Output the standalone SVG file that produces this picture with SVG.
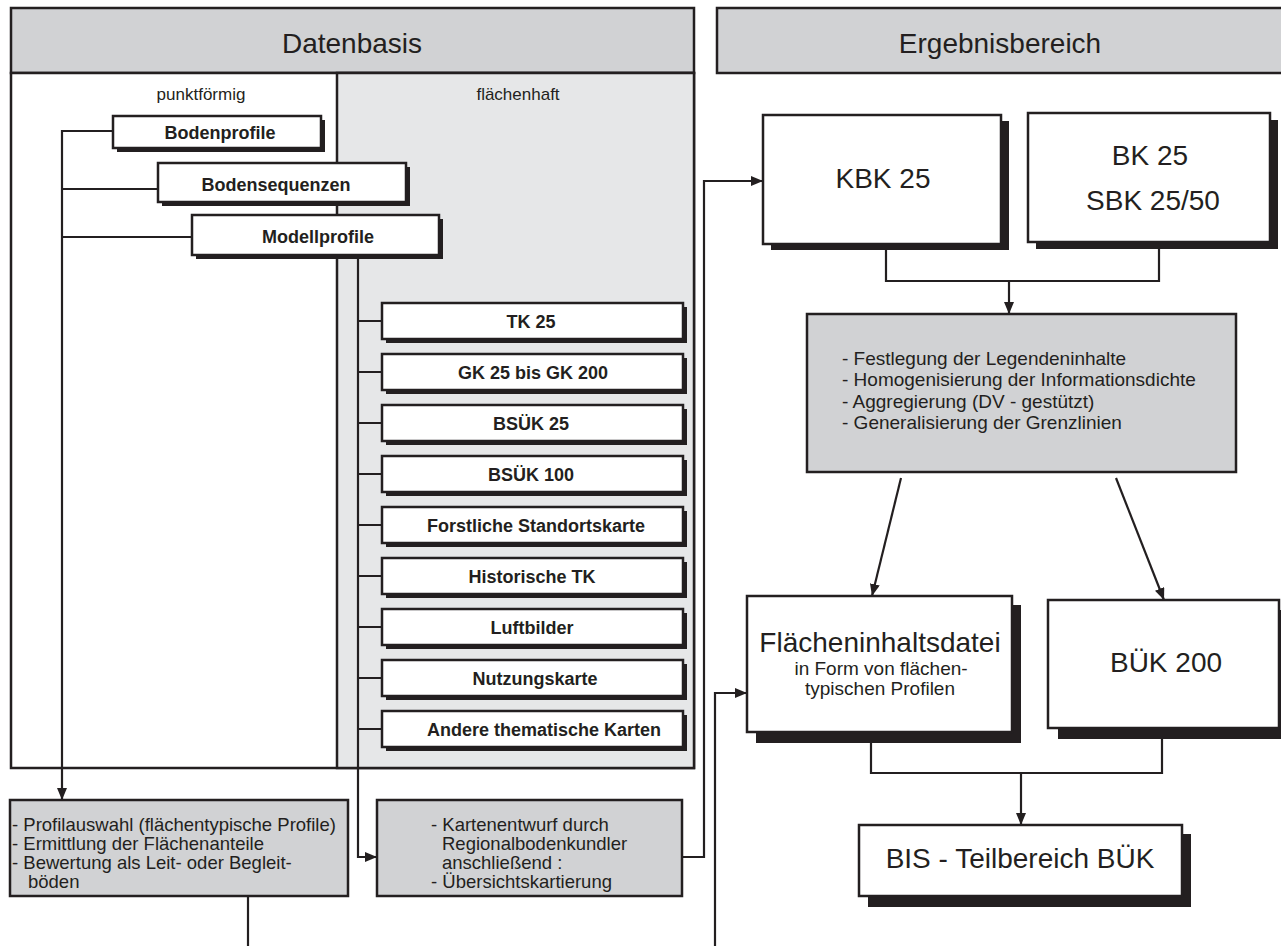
<svg xmlns="http://www.w3.org/2000/svg" width="1281" height="946" viewBox="0 0 1281 946">
<style>
text{font-family:"Liberation Sans",Arial,sans-serif;fill:#231f20}
.b{font-weight:bold;font-size:18px;text-anchor:middle}
.r{font-size:19px}
.r2{font-size:18.5px}
.big{font-size:28px;text-anchor:middle}
.box{fill:#fff;stroke:#231f20;stroke-width:2.5}
.gbox{fill:#d1d2d4;stroke:#231f20;stroke-width:2.5}
.sh{fill:#231f20}
.ln{fill:none;stroke:#231f20;stroke-width:2.2}
.ar{fill:none;stroke:#231f20;stroke-width:2.2;marker-end:url(#ah)}
</style>
<defs>
<marker id="ah" viewBox="0 0 12 10" refX="12" refY="5" markerWidth="12" markerHeight="10" orient="auto" markerUnits="userSpaceOnUse"><path d="M0,0 L12,5 L0,10 z" fill="#231f20"/></marker>
</defs>
<rect width="1281" height="946" fill="#fff"/>

<g id="datenbasis">
<rect x="11" y="8" width="683" height="65" class="gbox"/>
<text x="352" y="53" class="big" font-size="29">Datenbasis</text>
<rect x="11" y="73" width="683" height="695" class="box"/>
<rect x="337" y="73" width="357" height="695" fill="#e6e7e8" stroke="#231f20" stroke-width="2.5"/>
<text x="201" y="100" font-size="17" text-anchor="middle">punktförmig</text>
<text x="518" y="100" font-size="17" text-anchor="middle">flächenhaft</text>
</g>

<g id="ergebnisbereich">
<rect x="717" y="8" width="580" height="65" class="gbox"/>
<text x="1000" y="53" class="big">Ergebnisbereich</text>
</g>

<g id="connectors">
<path class="ar" d="M113,131 H62 V800"/>
<path class="ln" d="M158,189 H62 M192,237 H62"/>
<path class="ar" d="M358,255 V857 H377"/>
<path class="ln" d="M358,321 H382 M358,372 H382 M358,423 H382 M358,474 H382 M358,525 H382 M358,576 H382 M358,627 H382 M358,678 H382 M358,729 H382"/>
<path class="ar" d="M682,857 H704 V181 H763"/>
<path class="ln" d="M248,896 V946"/>
<path class="ar" d="M715,946 V693 H747"/>
<path class="ln" d="M886,244 V281 H1159 V242"/>
<path class="ar" d="M1009,281 V314"/>
<path class="ar" d="M901,478 L872,596"/>
<path class="ar" d="M1116,478 L1164,600"/>
<path class="ln" d="M871,732 V773 H1162 V728"/>
<path class="ar" d="M1021,773 V825"/>
</g>

<g id="bodenprofile"><rect x="117" y="120" width="208" height="32" class="sh"/><rect x="113" y="116" width="208" height="32" class="box"/><text x="220" y="139" class="b">Bodenprofile</text></g>
<g id="bodensequenzen"><rect x="162" y="167" width="248" height="39" class="sh"/><rect x="158" y="163" width="248" height="39" class="box"/><text x="276" y="191" class="b">Bodensequenzen</text></g>
<g id="modellprofile"><rect x="196" y="219" width="247" height="40" class="sh"/><rect x="192" y="215" width="247" height="40" class="box"/><text x="318" y="243" class="b">Modellprofile</text></g>

<g id="tk25"><rect x="386" y="307" width="301" height="36" class="sh"/><rect x="382" y="303" width="301" height="36" class="box"/><text x="531" y="328" class="b">TK 25</text></g>
<g id="gk25"><rect x="386" y="358" width="301" height="36" class="sh"/><rect x="382" y="354" width="301" height="36" class="box"/><text x="533" y="379" class="b">GK 25 bis GK 200</text></g>
<g id="bsuek25"><rect x="386" y="409" width="301" height="36" class="sh"/><rect x="382" y="405" width="301" height="36" class="box"/><text x="531" y="430" class="b">BSÜK 25</text></g>
<g id="bsuek100"><rect x="386" y="460" width="301" height="36" class="sh"/><rect x="382" y="456" width="301" height="36" class="box"/><text x="531" y="481" class="b">BSÜK 100</text></g>
<g id="forstliche"><rect x="386" y="511" width="301" height="36" class="sh"/><rect x="382" y="507" width="301" height="36" class="box"/><text x="536" y="532" class="b">Forstliche Standortskarte</text></g>
<g id="historische"><rect x="386" y="562" width="301" height="36" class="sh"/><rect x="382" y="558" width="301" height="36" class="box"/><text x="532" y="583" class="b">Historische TK</text></g>
<g id="luftbilder"><rect x="386" y="613" width="301" height="36" class="sh"/><rect x="382" y="609" width="301" height="36" class="box"/><text x="532" y="634" class="b">Luftbilder</text></g>
<g id="nutzungskarte"><rect x="386" y="664" width="301" height="36" class="sh"/><rect x="382" y="660" width="301" height="36" class="box"/><text x="535" y="685" class="b">Nutzungskarte</text></g>
<g id="andere"><rect x="386" y="715" width="301" height="36" class="sh"/><rect x="382" y="711" width="301" height="36" class="box"/><text x="544" y="736" class="b">Andere thematische Karten</text></g>

<g id="profilauswahl"><rect x="10" y="800" width="338" height="96" class="gbox"/>
<text class="r2" x="12" y="831">- Profilauswahl (flächentypische Profile)</text>
<text class="r2" x="12" y="850">- Ermittlung der Flächenanteile</text>
<text class="r2" x="12" y="869">- Bewertung als Leit- oder Begleit-</text>
<text class="r2" x="28" y="888">böden</text></g>

<g id="kartenentwurf"><rect x="377" y="800" width="305" height="96" class="gbox"/>
<text class="r2" x="431" y="831">- Kartenentwurf durch</text>
<text class="r2" x="442" y="850">Regionalbodenkundler</text>
<text class="r2" x="442" y="869">anschließend :</text>
<text class="r2" x="431" y="888">- Übersichtskartierung</text></g>

<g id="kbk25"><rect x="771" y="121" width="238" height="129" class="sh"/><rect x="763" y="115" width="238" height="129" class="box"/><text x="883" y="188" class="big" font-size="30">KBK 25</text></g>
<g id="bk25"><rect x="1036" y="120" width="242" height="129" class="sh"/><rect x="1028" y="113" width="242" height="129" class="box"/><text x="1150" y="165" class="big">BK 25</text><text x="1153" y="210" class="big">SBK 25/50</text></g>

<g id="generalisierung"><rect x="807" y="314" width="429" height="158" class="gbox"/>
<text class="r" x="842" y="365">- Festlegung der Legendeninhalte</text>
<text class="r" x="842" y="386">- Homogenisierung der Informationsdichte</text>
<text class="r" x="842" y="408">- Aggregierung (DV - gestützt)</text>
<text class="r" x="842" y="429">- Generalisierung der Grenzlinien</text></g>

<g id="flaecheninhaltsdatei"><rect x="756" y="605" width="265" height="138" class="sh"/><rect x="747" y="596" width="265" height="136" class="box"/>
<text x="880" y="652" class="big">Flächeninhaltsdatei</text>
<text x="881" y="675" font-size="19" text-anchor="middle">in Form von flächen-</text>
<text x="880" y="695" font-size="19" text-anchor="middle">typischen Profilen</text></g>

<g id="buek200"><rect x="1058" y="610" width="240" height="129" class="sh"/><rect x="1048" y="600" width="231" height="128" class="box"/><text x="1166" y="672" class="big">BÜK 200</text></g>

<g id="bis"><rect x="868" y="834" width="323" height="73" class="sh"/><rect x="859" y="825" width="323" height="71" class="box"/><text x="1020" y="868" class="big">BIS - Teilbereich BÜK</text></g>
</svg>
